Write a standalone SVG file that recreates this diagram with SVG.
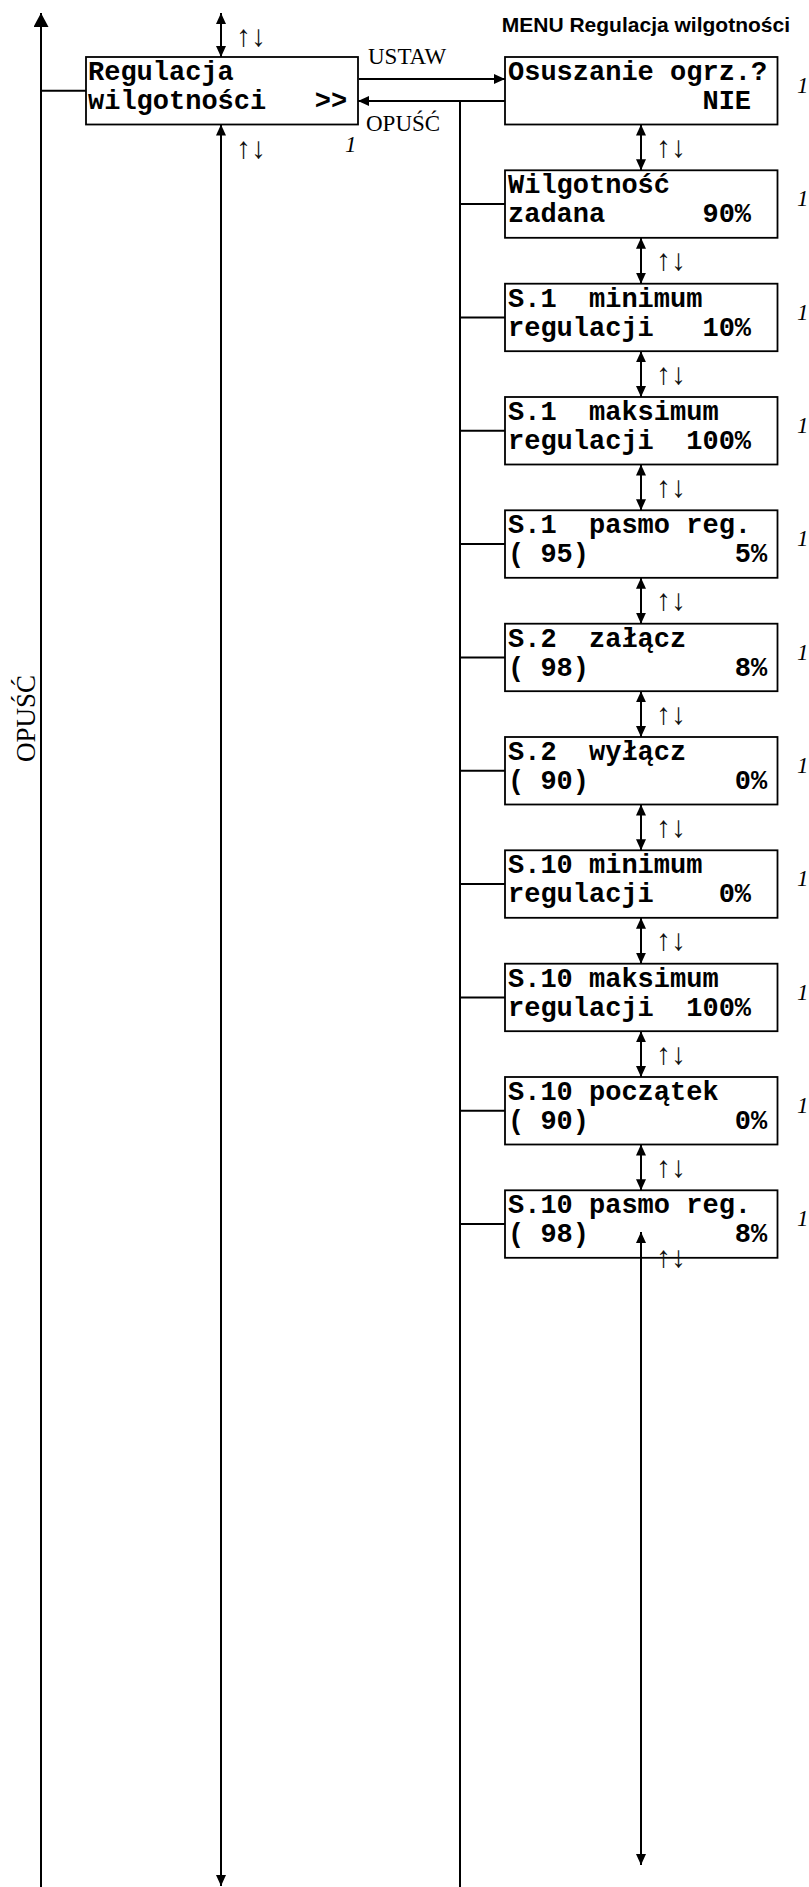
<svg xmlns="http://www.w3.org/2000/svg" width="809" height="1887" viewBox="0 0 809 1887">
<style>
.bg{fill:#fff}
.box{fill:#fff;stroke:#000;stroke-width:1.8}
.ln{fill:none;stroke:#000;stroke-width:2}
.lcd{font-family:"Liberation Mono","DejaVu Sans Mono",monospace;font-weight:bold;font-size:27px;fill:#000;white-space:pre}
.ser{font-family:"Liberation Serif","DejaVu Serif",serif;font-size:23px;fill:#000}
.arr{font-family:"Liberation Serif","DejaVu Serif",serif;font-size:30px;fill:#111}
.num{font-family:"Liberation Serif","DejaVu Serif",serif;font-style:italic;font-size:23px;fill:#000}
.ttl{font-family:"Liberation Sans",Arial,sans-serif;font-weight:bold;font-size:21px;fill:#000}
</style>
<defs>
<marker id="ah" markerUnits="userSpaceOnUse" markerWidth="11" markerHeight="10" refX="11" refY="5" orient="auto-start-reverse">
<path d="M0,0 L11,5 L0,10 z" fill="#000"/>
</marker>
<marker id="ahL" markerUnits="userSpaceOnUse" markerWidth="14" markerHeight="15" refX="14" refY="7.5" orient="auto-start-reverse">
<path d="M0,0 L14,7.5 L0,15 z" fill="#000"/>
</marker>
</defs>
<rect class="bg" x="0" y="0" width="809" height="1887"/>

<text class="ttl" x="790" y="32" text-anchor="end">MENU Regulacja wilgotności</text>

<g id="connectors">
<line class="ln" x1="41" y1="1887" x2="41" y2="13" marker-end="url(#ahL)"/>
<line class="ln" x1="41" y1="90.75" x2="86" y2="90.75"/>
<line class="ln" x1="221" y1="13" x2="221" y2="57" marker-start="url(#ah)" marker-end="url(#ah)"/>
<line class="ln" x1="221" y1="124.5" x2="221" y2="1886" marker-start="url(#ah)" marker-end="url(#ah)"/>
<line class="ln" x1="359" y1="79" x2="505" y2="79" marker-end="url(#ah)"/>
<line class="ln" x1="505" y1="101" x2="358" y2="101" marker-end="url(#ah)"/>
<line class="ln" x1="460" y1="101" x2="460" y2="1887"/>
<line class="ln" x1="460" y1="204.1" x2="505" y2="204.1"/>
<line class="ln" x1="460" y1="317.4" x2="505" y2="317.4"/>
<line class="ln" x1="460" y1="430.8" x2="505" y2="430.8"/>
<line class="ln" x1="460" y1="544.1" x2="505" y2="544.1"/>
<line class="ln" x1="460" y1="657.4" x2="505" y2="657.4"/>
<line class="ln" x1="460" y1="770.8" x2="505" y2="770.8"/>
<line class="ln" x1="460" y1="884.1" x2="505" y2="884.1"/>
<line class="ln" x1="460" y1="997.4" x2="505" y2="997.4"/>
<line class="ln" x1="460" y1="1110.8" x2="505" y2="1110.8"/>
<line class="ln" x1="460" y1="1224.1" x2="505" y2="1224.1"/>
<line class="ln" x1="641" y1="124.5" x2="641" y2="170.3" marker-start="url(#ah)" marker-end="url(#ah)"/>
<line class="ln" x1="641" y1="237.8" x2="641" y2="283.7" marker-start="url(#ah)" marker-end="url(#ah)"/>
<line class="ln" x1="641" y1="351.2" x2="641" y2="397" marker-start="url(#ah)" marker-end="url(#ah)"/>
<line class="ln" x1="641" y1="464.5" x2="641" y2="510.3" marker-start="url(#ah)" marker-end="url(#ah)"/>
<line class="ln" x1="641" y1="577.8" x2="641" y2="623.7" marker-start="url(#ah)" marker-end="url(#ah)"/>
<line class="ln" x1="641" y1="691.2" x2="641" y2="737" marker-start="url(#ah)" marker-end="url(#ah)"/>
<line class="ln" x1="641" y1="804.5" x2="641" y2="850.3" marker-start="url(#ah)" marker-end="url(#ah)"/>
<line class="ln" x1="641" y1="917.8" x2="641" y2="963.7" marker-start="url(#ah)" marker-end="url(#ah)"/>
<line class="ln" x1="641" y1="1031.2" x2="641" y2="1077" marker-start="url(#ah)" marker-end="url(#ah)"/>
<line class="ln" x1="641" y1="1144.5" x2="641" y2="1190.3" marker-start="url(#ah)" marker-end="url(#ah)"/>

<text class="ser" x="368" y="64">USTAW</text>
<text class="ser" x="366" y="131">OPUŚĆ</text>
<text class="ser" style="font-size:27px" text-anchor="middle" transform="translate(35,718.5) rotate(-90)">OPUŚĆ</text>
<text class="arr" x="236" y="46">↑↓</text>
<text class="arr" x="236" y="158">↑↓</text>
<text class="arr" x="656" y="157">↑↓</text>
<text class="arr" x="656" y="270">↑↓</text>
<text class="arr" x="656" y="384">↑↓</text>
<text class="arr" x="656" y="497">↑↓</text>
<text class="arr" x="656" y="610">↑↓</text>
<text class="arr" x="656" y="724">↑↓</text>
<text class="arr" x="656" y="837">↑↓</text>
<text class="arr" x="656" y="950">↑↓</text>
<text class="arr" x="656" y="1064">↑↓</text>
<text class="arr" x="656" y="1177">↑↓</text>
</g>

<g id="main">
<rect class="box" x="86" y="57" width="272" height="67.5"/>
<text class="lcd" x="88" y="80">Regulacja</text>
<text class="lcd" x="88" y="109">wilgotności   &gt;&gt;</text>
<text class="num" x="345" y="152">1</text>
</g>

<g id="n1">
<rect class="box" x="505" y="57" width="272.5" height="67.5"/>
<text class="lcd" x="508" y="80">Osuszanie ogrz.?</text>
<text class="lcd" x="508" y="109">            NIE</text>
<text class="num" x="797" y="93">1</text>
</g>
<g id="n2">
<rect class="box" x="505" y="170.3" width="272.5" height="67.5"/>
<text class="lcd" x="508" y="193.3">Wilgotność</text>
<text class="lcd" x="508" y="222.3">zadana      90%</text>
<text class="num" x="797" y="206.3">1</text>
</g>
<g id="n3">
<rect class="box" x="505" y="283.7" width="272.5" height="67.5"/>
<text class="lcd" x="508" y="306.7">S.1  minimum</text>
<text class="lcd" x="508" y="335.7">regulacji   10%</text>
<text class="num" x="797" y="319.7">1</text>
</g>
<g id="n4">
<rect class="box" x="505" y="397" width="272.5" height="67.5"/>
<text class="lcd" x="508" y="420">S.1  maksimum</text>
<text class="lcd" x="508" y="449">regulacji  100%</text>
<text class="num" x="797" y="433">1</text>
</g>
<g id="n5">
<rect class="box" x="505" y="510.3" width="272.5" height="67.5"/>
<text class="lcd" x="508" y="533.3">S.1  pasmo reg.</text>
<text class="lcd" x="508" y="562.3">( 95)         5%</text>
<text class="num" x="797" y="546.3">1</text>
</g>
<g id="n6">
<rect class="box" x="505" y="623.7" width="272.5" height="67.5"/>
<text class="lcd" x="508" y="646.7">S.2  załącz</text>
<text class="lcd" x="508" y="675.7">( 98)         8%</text>
<text class="num" x="797" y="659.7">1</text>
</g>
<g id="n7">
<rect class="box" x="505" y="737" width="272.5" height="67.5"/>
<text class="lcd" x="508" y="760">S.2  wyłącz</text>
<text class="lcd" x="508" y="789">( 90)         0%</text>
<text class="num" x="797" y="773">1</text>
</g>
<g id="n8">
<rect class="box" x="505" y="850.3" width="272.5" height="67.5"/>
<text class="lcd" x="508" y="873.3">S.10 minimum</text>
<text class="lcd" x="508" y="902.3">regulacji    0%</text>
<text class="num" x="797" y="886.3">1</text>
</g>
<g id="n9">
<rect class="box" x="505" y="963.7" width="272.5" height="67.5"/>
<text class="lcd" x="508" y="986.7">S.10 maksimum</text>
<text class="lcd" x="508" y="1015.7">regulacji  100%</text>
<text class="num" x="797" y="999.7">1</text>
</g>
<g id="n10">
<rect class="box" x="505" y="1077" width="272.5" height="67.5"/>
<text class="lcd" x="508" y="1100">S.10 początek</text>
<text class="lcd" x="508" y="1129">( 90)         0%</text>
<text class="num" x="797" y="1113">1</text>
</g>
<g id="n11">
<rect class="box" x="505" y="1190.3" width="272.5" height="67.5"/>
<text class="lcd" x="508" y="1213.3">S.10 pasmo reg.</text>
<text class="lcd" x="508" y="1242.3">( 98)         8%</text>
<text class="num" x="797" y="1226.3">1</text>
</g>

<g id="tail">
<line class="ln" x1="641" y1="1232" x2="641" y2="1865" marker-start="url(#ah)" marker-end="url(#ah)"/>
<text class="arr" x="656" y="1267">↑↓</text>
</g>
</svg>
